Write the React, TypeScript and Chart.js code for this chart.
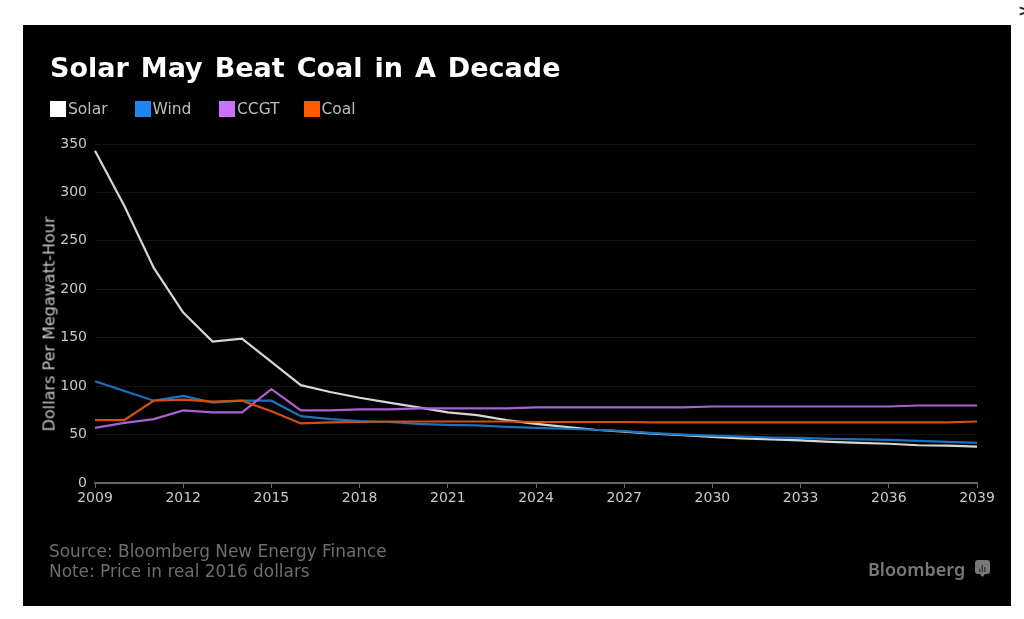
import React, { useEffect, useRef } from "react";
import { Chart, registerables } from "chart.js";

Chart.register(...registerables);

const years = ["2009","2010","2011","2012","2013","2014","2015","2016","2017","2018","2019","2020","2021","2022","2023","2024","2025","2026","2027","2028","2029","2030","2031","2032","2033","2034","2035","2036","2037","2038","2039"];
const solar = [343,286,222,176,146,149,125,101,94,88,83,78,73,70,65,61,58,55,53,51,49.5,47.5,46,45,44,42.5,41.5,40.5,39,38.5,37.5];
const wind = [105,95,85,90,83,85,85,69,66,64,63,61,60,59.5,58,57,56,55,53.5,51.5,50,49,48,47,46.5,45.5,45,44.5,43.5,42.5,41.5];
const ccgt = [57,62,66,75,73,73,97,75,75,76,76,77,77,77,77,78,78,78,78,78,78,79,79,79,79,79,79,79,80,80,80];
const coal = [65,65,85,86,84,85,74,61.5,62.5,63,63.5,63.5,63.5,63.5,63.5,63,63,63,63,62.5,62.5,62.5,62.5,62.5,62.5,62.5,62.5,62.5,62.5,62.5,63.5];

const titleText = "Solar May Beat Coal in A Decade";
const legendItems = [
  { label: "Solar", color: "#ffffff" },
  { label: "Wind", color: "#1e86f2" },
  { label: "CCGT", color: "#c873fa" },
  { label: "Coal", color: "#ff5a00" },
];
const sourceLines = ["Source: Bloomberg New Energy Finance", "Note: Price in real 2016 dollars"];
const yAxisTitle = "Dollars Per Megawatt-Hour";
const brand = "Bloomberg";

const font = "'DejaVu Sans', sans-serif";

export default function App() {
  const ref = useRef<HTMLCanvasElement>(null);
  useEffect(() => {
    const line = (label: string, data: number[], color: string, order: number) => ({
      label, data, borderColor: color, backgroundColor: color, borderWidth: 2.2, pointRadius: 0, tension: 0, order,
    });
    const chart = new Chart(ref.current!, {
      type: "line",
      data: {
        labels: years,
        datasets: [
          line("Solar", solar, "#d6d6d2", 3),
          line("Wind", wind, "#1a72bd", 2),
          line("CCGT", ccgt, "#a861d2", 1),
          line("Coal", coal, "#d2500f", 0),
        ],
      },
      options: {
        animation: false,
        responsive: false,
        layout: { padding: { top: 119, right: 34, left: 0, bottom: 0 } },
        plugins: { legend: { display: false }, title: { display: false }, tooltip: { enabled: false } },
        scales: {
          x: {
            afterFit: (s: any) => { s.height = 123; },
            grid: {
              drawOnChartArea: false,
              tickLength: 5,
              tickColor: (c: any) => (c.index % 3 === 0 ? "#666" : "rgba(0,0,0,0)"),
            },
            border: { color: "#666", width: 2 },
            ticks: {
              autoSkip: false, maxRotation: 0, color: "#c8c8c8", padding: 2,
              font: { family: font, size: 14 },
              callback: (_v: any, i: number) => (i % 3 === 0 ? years[i] : ""),
            },
          },
          y: {
            min: 0, max: 350,
            afterFit: (s: any) => { s.width = 72; },
            grid: { color: "#161616", drawTicks: false, lineWidth: 1 },
            border: { display: false },
            ticks: { stepSize: 50, color: "#c8c8c8", padding: 8, font: { family: font, size: 14 } },
          },
        },
      },
    });
    return () => chart.destroy();
  }, []);

  return (
    <div style={{ position: "absolute", left: 0, top: 0, width: 1024, height: 619, background: "#fff", overflow: "hidden", fontFamily: font }}>
      <div style={{ position: "absolute", left: 1018, top: 1, fontSize: 16, fontWeight: 700, color: "#222" }}>&gt;</div>
      <div style={{ position: "absolute", left: 23, top: 25, width: 988, height: 581, background: "#000", filter: "blur(0.4px)" }}>
        <canvas ref={ref} width={988} height={581} style={{ position: "absolute", left: 0, top: 0 }} />
        <div style={{ position: "absolute", left: 27, top: 25, fontSize: 27, fontWeight: 700, color: "#fff", whiteSpace: "nowrap", lineHeight: "36px", wordSpacing: 2.6 }}>{titleText}</div>
        <div style={{ position: "absolute", left: 27, top: 75, display: "flex" }}>
          {legendItems.map((it) => (
            <div key={it.label} style={{ width: 84.5, display: "flex", alignItems: "center", height: 18 }}>
              <span style={{ width: 16, height: 16, background: it.color, display: "block", marginRight: 2 }} />
              <span style={{ color: "#bdbdbd", fontSize: 15.5 }}>{it.label}</span>
            </div>
          ))}
        </div>
        <div style={{ position: "absolute", left: 26, top: 516, color: "#6e6e6e", fontSize: 16.9, lineHeight: "20px", whiteSpace: "nowrap" }}>
          {sourceLines.map((s) => <div key={s}>{s}</div>)}
        </div>
        <div style={{ position: "absolute", left: 26, top: 299, transform: "translate(-50%,-50%) rotate(-90deg)", color: "#c8c8c8", fontSize: 16, whiteSpace: "nowrap" }}>{yAxisTitle}</div>
        <div style={{ position: "absolute", left: 845, top: 532, color: "#787878", fontSize: 18, fontWeight: 600, fontFamily: "'Noto Sans', sans-serif", lineHeight: "24px" }}>{brand}</div>
        <svg width="15" height="18" viewBox="0 0 15 18" style={{ position: "absolute", left: 952, top: 535 }}>
          <path d="M3 0H12A3 3 0 0 1 15 3V11A3 3 0 0 1 12 14H10L7.5 17L5 14H3A3 3 0 0 1 0 11V3A3 3 0 0 1 3 0Z" fill="#787878" />
          <path d="M4 9H5.2V12H4ZM6.6 5H7.8V12H6.6ZM9.2 7H10.4V12H9.2Z" fill="#2a2a2a" />
        </svg>
      </div>
    </div>
  );
}
